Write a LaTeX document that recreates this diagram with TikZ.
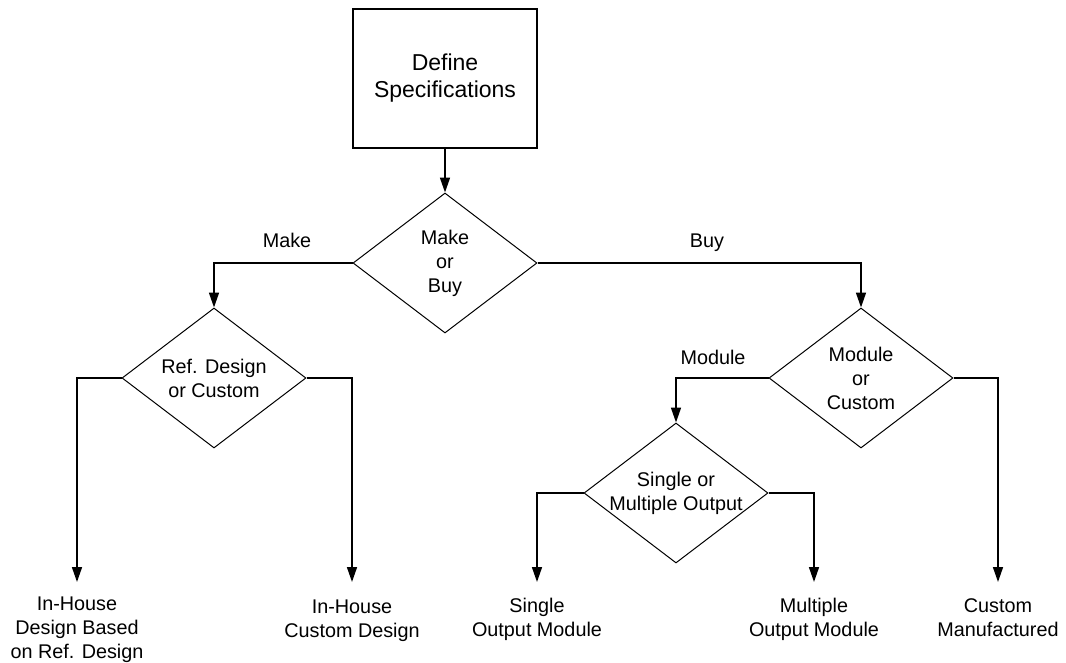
\documentclass[tikz,border=0pt]{standalone}
\usepackage{fontspec}
\setmainfont{Liberation Sans}
\usetikzlibrary{shapes.geometric,arrows.meta}
\begin{document}
\begin{tikzpicture}[x=1pt,y=-1pt,
  lbl/.style={font=\fontsize{19.8}{24}\selectfont, align=center, inner sep=0pt},
  endlbl/.style={lbl, anchor=north, inner ysep=15pt},
  specbox/.style={rectangle, draw, line width=1.6pt, minimum width=184pt, minimum height=139pt,
    font=\fontsize{23}{27}\selectfont, align=center},
  dia/.style={diamond, draw, line width=1pt, minimum width=184pt, minimum height=140pt, inner sep=0pt},
  conn/.style={line width=1.6pt, -{Triangle[width=10pt,length=15pt]}}]
\useasboundingbox[fill=white] (0,0) rectangle (1066,662);

% process box
\node[specbox] (spec) at (445,78.5) {Define\\Specifications};

% decisions
\node[dia] (mob) at (445,263) {};
\node[lbl] (mobt) at (mob.center) {Make\\or\\Buy};
\node[dia] (ref) at (214,378) {};
\node[lbl] (reft) at (ref.center) {Ref. Design\\or Custom};
\node[dia] (moc) at (861,378) {};
\node[lbl] (moct) at (moc.center) {Module\\or\\Custom};
\node[dia] (sin) at (676,493) {};
\node[lbl] (sint) at (sin.center) {Single or\\Multiple Output};

% end labels
\node[endlbl] (t1) at (77,582) {In-House\\Design Based\\on Ref. Design};
\node[endlbl, inner ysep=18pt] (t2) at (352,582) {In-House\\Custom Design};
\node[endlbl, inner ysep=16pt] (t3) at (537,582) {Single\\Output Module};
\node[endlbl, inner ysep=16pt] (t4) at (814,582) {Multiple\\Output Module};
\node[endlbl, inner ysep=16pt] (t5) at (998,582) {Custom\\Manufactured};

% branch labels
\node[lbl, anchor=base] (lmake) at (287,247) {Make};
\node[lbl, anchor=base] (lbuy) at (707,247) {Buy};
\node[lbl, anchor=base] (lmod) at (713,364) {Module};

% connectors
\draw[conn] (spec.south) -- (mob.north);
\draw[conn] (mob.west) -| (ref.north);
\draw[conn] (mob.east) -| (moc.north);
\draw[conn] (ref.west) -| (t1.north);
\draw[conn] (ref.east) -| (t2.north);
\draw[conn] (moc.west) -| (sin.north);
\draw[conn] (moc.east) -| (t5.north);
\draw[conn] (sin.west) -| (t3.north);
\draw[conn] (sin.east) -| (t4.north);
\end{tikzpicture}
\end{document}
